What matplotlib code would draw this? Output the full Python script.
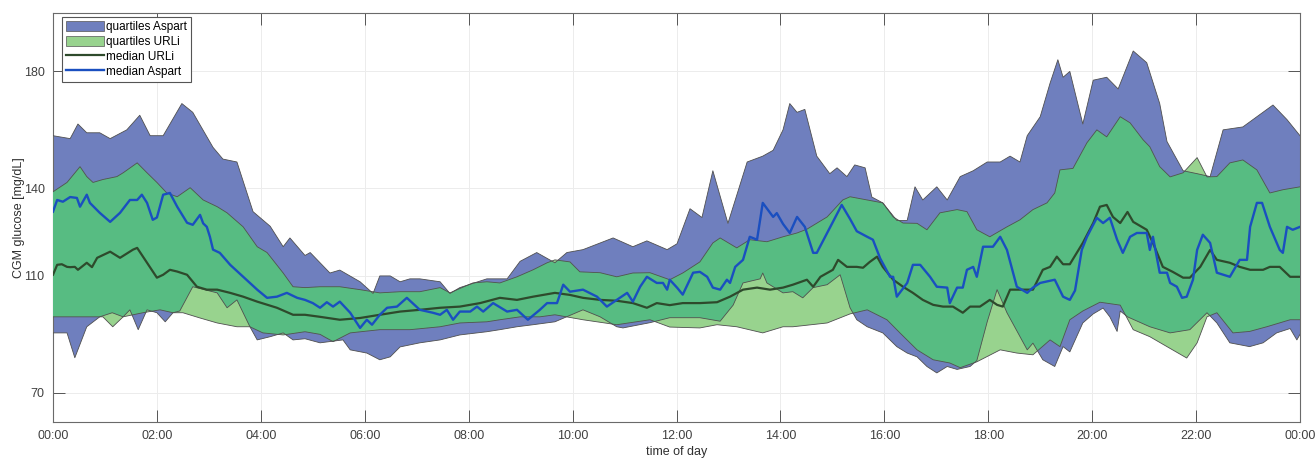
import numpy as np
import matplotlib
matplotlib.use('Agg')
import matplotlib.pyplot as plt
from matplotlib.patches import Patch
from matplotlib.lines import Line2D

plt.rcParams['font.family'] = ['Liberation Sans', 'DejaVu Sans']

# ---- data (time in hours, glucose in mg/dL) ----
asp_hi_t = [0.00, 0.33, 0.48, 0.65, 0.90, 1.10, 1.42, 1.67, 1.87, 2.12, 2.48, 2.69, 3.08, 3.27, 3.54,
            3.85, 4.18, 4.43, 4.56, 4.85, 4.95, 5.33, 5.52, 5.91, 6.16, 6.29, 6.49, 6.68, 6.87, 7.06,
            7.45, 7.64, 7.83, 8.35, 8.74, 8.99, 9.31, 9.66, 9.89, 10.20, 10.78, 11.16, 11.43, 11.82,
            12.01, 12.26, 12.49, 12.70, 12.99, 13.36, 13.66, 13.86, 14.05, 14.18, 14.32, 14.47, 14.70,
            14.95, 15.09, 15.28, 15.43, 15.63, 15.76, 15.97, 16.24, 16.44, 16.59, 16.74, 17.01, 17.21,
            17.46, 17.71, 17.98, 18.23, 18.42, 18.61, 18.75, 19.00, 19.19, 19.34, 19.44, 19.57, 19.82,
            20.02, 20.28, 20.50, 20.79, 21.05, 21.30, 21.44, 21.75, 22.02, 22.27, 22.52, 22.90, 23.48,
            23.75, 24.00]
asp_hi = [158, 157, 162, 159, 159, 157, 160, 165, 158, 158, 169, 166, 154, 150, 149,
          132, 127, 120, 123, 117, 118, 111, 112, 108, 104, 110, 110, 108, 109, 109,
          108, 104, 106, 109, 109, 115, 118, 114.5, 118, 119, 123, 120, 122, 119,
          121, 133, 130, 146, 128, 149, 151, 153, 160, 169, 166, 167, 151,
          145, 147, 144, 148, 147, 137, 135, 129, 129, 140.5, 136, 140.5, 136,
          144, 146, 149, 149, 151, 149, 158, 164.5, 176, 184, 178, 180, 162,
          177, 178, 174, 187, 183, 169, 156, 146, 145, 144, 160, 161, 168.5,
          163.5, 158]

asp_lo_t = [0.00, 0.27, 0.42, 0.65, 0.90, 1.14, 1.35, 1.48, 1.64, 1.81, 2.00, 2.16, 2.31, 2.44, 2.69,
            3.16, 3.35, 3.54, 3.79, 3.93, 4.18, 4.43, 4.62, 4.85, 5.14, 5.58, 5.72, 6.04, 6.29, 6.49,
            6.68, 7.06, 7.45, 7.83, 8.35, 8.60, 8.93, 9.24, 9.66, 10.20, 10.53, 10.85, 10.97, 11.49,
            11.87, 12.45, 12.84, 13.09, 13.28, 13.61, 13.66, 13.74, 14.05, 14.24, 14.43, 14.63, 14.90,
            15.15, 15.34, 15.47, 15.67, 15.97, 16.24, 16.44, 16.63, 16.82, 17.01, 17.21, 17.40, 17.65,
            17.78, 17.98, 18.17, 18.36, 18.75, 18.86, 19.05, 19.28, 19.44, 19.57, 19.82, 20.02, 20.21,
            20.34, 20.48, 20.54, 20.68, 21.11, 21.50, 21.88, 22.21, 22.40, 22.65, 23.03, 23.29, 23.55,
            23.81, 23.94, 24.00]
asp_lo = [90.5, 90.5, 82, 92.6, 96, 97.4, 96, 98.4, 91.6, 98.4, 97.4, 94.3, 97.4, 98, 106.3,
          104.2, 99.1, 101.8, 92.6, 88.1, 89.2, 90.5, 88.1, 88.5, 87.1, 88.1, 84.7, 83.6, 81.3, 82.3,
          85.7, 87.1, 88.1, 89.8, 90.9, 91.6, 92.6, 93.3, 94.3, 98.4, 96, 92.6, 92.2, 94,
          95.7, 95.7, 94.5, 100, 107.6, 109, 111, 107.6, 104.2, 104.6, 102.5, 106, 107,
          110.4, 99.1, 95, 92.6, 90.5, 85.8, 83.6, 82.3, 79, 76.8, 79, 78, 79,
          81, 94.3, 105.3, 97.4, 84.7, 87, 81.3, 79, 85.8, 84, 93.9, 97, 99,
          96, 91, 98, 96, 92.6, 90.5, 91.6, 97.4, 93.9, 87.1, 85.8, 87.1, 90.5,
          92, 88.1, 90]

url_hi_t = [0.00, 0.27, 0.52, 0.65, 0.77, 0.96, 1.23, 1.35, 1.62, 1.81, 2.00, 2.19, 2.39, 2.64, 2.89,
            3.16, 3.35, 3.66, 3.93, 4.12, 4.43, 4.62, 4.85, 5.14, 5.52, 5.91, 6.29, 6.68, 7.06, 7.45,
            7.64, 7.78, 8.08, 8.35, 8.60, 8.93, 9.24, 9.51, 9.66, 9.95, 10.14, 10.53, 10.85, 11.16,
            11.49, 11.87, 12.12, 12.45, 12.70, 12.84, 13.16, 13.41, 13.74, 14.05, 14.32, 14.51, 14.90,
            15.20, 15.34, 15.67, 15.97, 16.17, 16.36, 16.63, 16.82, 17.07, 17.40, 17.59, 17.78, 18.03,
            18.36, 18.61, 18.86, 19.13, 19.28, 19.38, 19.63, 19.90, 20.09, 20.28, 20.54, 20.73, 20.98,
            21.11, 21.30, 21.50, 21.75, 22.02, 22.21, 22.40, 22.65, 22.90, 23.17, 23.42, 23.67, 24.00]
url_hi = [138.8, 142, 147.4, 144, 142, 143, 144, 145.3, 148.7, 145.3, 142, 138.4, 137.1, 140.2, 136,
          133.7, 131.6, 126.8, 120, 118, 111, 106.3, 106, 106.3, 106.3, 105.3, 104.2, 104.6, 104.6, 106,
          104.2, 105.3, 107.6, 108, 107.6, 109.7, 112.1, 114.5, 115.5, 114.8, 111.4, 111.1, 109.7, 111,
          111.1, 108.7, 111, 114.8, 121.3, 123, 119.6, 122.4, 121.7, 123.4, 124.7, 126, 130.2,
          136, 137.1, 136, 135, 130.2, 128.1, 128, 125.8, 131.6, 132.7, 132, 125.8, 123.4,
          126.8, 129.2, 132.7, 135, 138.4, 146.3, 146.8, 155.6, 160, 157.6, 164.5, 162.4, 156.6,
          154.2, 147.4, 143.9, 145.3, 150.5, 143.9, 144, 148.7, 149.7, 146.3, 138.4, 139.5, 140.5]

url_lo_t = [0.00, 0.46, 0.96, 1.15, 1.35, 1.73, 2.06, 2.31, 2.50, 2.83, 3.16, 3.54, 3.79, 4.04, 4.43,
            4.85, 5.14, 5.39, 5.72, 6.29, 6.87, 7.45, 7.83, 8.35, 8.60, 8.99, 9.37, 9.66, 10.20, 10.85,
            11.49, 11.87, 12.45, 12.78, 13.16, 13.66, 14.05, 14.24, 14.90, 15.34, 15.67, 16.05, 16.30,
            16.63, 16.94, 17.26, 17.46, 17.78, 18.23, 18.55, 18.86, 19.19, 19.38, 19.57, 19.82, 20.15,
            20.54, 20.79, 21.11, 21.44, 21.82, 22.02, 22.21, 22.40, 22.71, 23.03, 23.36, 23.81, 24.00]
url_lo = [96, 96, 96, 92.6, 96, 97.4, 98.4, 97.4, 97.4, 95.6, 93.9, 92.6, 92.6, 90.5, 89.8,
          90.9, 90, 87.5, 90.5, 91.6, 91.6, 92.6, 93.9, 94.3, 95, 96, 96, 96.7, 95, 93.3,
          95, 92.5, 92.2, 93.3, 92.6, 90.5, 92.6, 92.6, 93.9, 97, 98.4, 95, 90.5,
          84.7, 81.3, 80.2, 78.6, 80.6, 84.7, 83.6, 83, 88.1, 85.8, 95, 98, 101,
          100, 91.6, 89.2, 85.8, 81.9, 87.1, 96, 97.4, 90.5, 91, 92.6, 95, 95]

med_asp_t = [0.00, 0.08, 0.19, 0.33, 0.46, 0.52, 0.65, 0.71, 0.90, 1.10, 1.29, 1.48, 1.62, 1.71, 1.81,
             1.92, 2.00, 2.12, 2.25, 2.39, 2.58, 2.69, 2.83, 2.89, 2.96, 3.02, 3.08, 3.21, 3.41, 3.66,
             3.93, 4.12, 4.31, 4.50, 4.70, 4.85, 5.00, 5.14, 5.27, 5.39, 5.52, 5.72, 5.91, 6.04, 6.14,
             6.29, 6.43, 6.62, 6.81, 7.06, 7.31, 7.45, 7.58, 7.70, 7.83, 8.03, 8.16, 8.28, 8.47, 8.74,
             8.93, 9.14, 9.37, 9.51, 9.70, 9.82, 9.95, 10.20, 10.47, 10.66, 10.85, 11.05, 11.16, 11.30,
             11.43, 11.62, 11.74, 11.82, 11.87, 12.01, 12.12, 12.32, 12.45, 12.59, 12.70, 12.84, 12.97,
             13.03, 13.13, 13.28, 13.41, 13.55, 13.66, 13.86, 13.93, 14.05, 14.18, 14.32, 14.47, 14.63,
             14.70, 14.90, 15.18, 15.34, 15.47, 15.67, 15.78, 15.92, 16.11, 16.17, 16.24, 16.44, 16.55,
             16.69, 16.88, 17.01, 17.21, 17.26, 17.40, 17.51, 17.59, 17.71, 17.78, 17.90, 18.09, 18.23,
             18.36, 18.55, 18.75, 18.86, 19.00, 19.28, 19.44, 19.57, 19.67, 19.80, 19.90, 20.09, 20.21,
             20.34, 20.48, 20.59, 20.73, 20.86, 21.05, 21.11, 21.17, 21.30, 21.44, 21.50, 21.63, 21.73,
             21.82, 21.94, 22.02, 22.13, 22.27, 22.40, 22.65, 22.84, 22.98, 23.04, 23.17, 23.27, 23.42,
             23.61, 23.67, 23.75, 23.86, 24.00]
med_asp = [132, 136, 135.4, 137, 136.7, 133.7, 137.8, 135, 131.6, 128.5, 131.6, 136, 136, 137.8, 135,
           129.2, 130, 137.8, 138.4, 133.7, 128.2, 127.5, 130.9, 128, 126.8, 123.4, 119, 117.9, 113.8, 109.7,
           105.3, 102.5, 102.9, 104.2, 102.5, 101.8, 100.7, 99.1, 101, 99.5, 101.2, 97.4, 92.2, 95, 93.3,
           96.7, 99.1, 99.5, 102.5, 98.4, 97.4, 96.7, 98.4, 95, 97.8, 97.8, 99.5, 97.8, 100.7, 97.8,
           98.4, 95, 98.4, 100.7, 100.7, 107, 104.6, 105.3, 102.9, 99.5, 101.8, 104.2, 101.2, 106.3,
           109.7, 107.6, 107.6, 105.3, 108.7, 106, 103.6, 111.1, 111.4, 109.7, 106, 105.3, 108.7,
           107.6, 113.1, 115.5, 123.4, 122.4, 135, 130.2, 131.5, 127.8, 124.7, 130.2, 126.8, 117.9,
           117.9, 124.7, 134.3, 129.5, 125.3, 123.4, 122.4, 116, 109.7, 109.7, 102.9, 107.6, 113.8,
           113.8, 109.7, 106.3, 106, 100.7, 106, 106, 112.1, 113.1, 109.7, 120, 120, 123.4,
           118.9, 106.3, 104.2, 106, 107.6, 108.7, 102.9, 101.8, 105, 118.9, 123.4, 129.9, 128.1,
           129.9, 122.4, 117.9, 123.4, 124.7, 124.7, 118.9, 123.4, 111.1, 111.1, 107.6, 106.3, 102.5,
           102.9, 108.7, 118.9, 124.1, 121.3, 111.1, 109.7, 115.5, 115.5, 126.8, 135, 135, 126.8,
           118.9, 117.9, 126.8, 125.8, 126.8]

med_url_t = [0.00, 0.08, 0.17, 0.27, 0.33, 0.42, 0.48, 0.65, 0.75, 0.85, 1.10, 1.29, 1.54, 1.62, 1.81,
             2.00, 2.12, 2.25, 2.39, 2.58, 2.77, 2.96, 3.16, 3.41, 3.66, 3.93, 4.31, 4.62, 4.85, 5.14,
             5.52, 5.91, 6.29, 6.68, 7.06, 7.45, 7.83, 8.22, 8.60, 8.93, 9.24, 9.66, 9.95, 10.20, 10.53,
             10.85, 11.16, 11.43, 11.62, 11.87, 12.12, 12.45, 12.78, 13.03, 13.28, 13.55, 13.80, 14.05,
             14.24, 14.51, 14.63, 14.77, 15.01, 15.11, 15.28, 15.47, 15.59, 15.72, 15.86, 15.97, 16.17,
             16.36, 16.55, 16.74, 16.94, 17.13, 17.32, 17.51, 17.65, 17.84, 18.03, 18.17, 18.28, 18.42,
             18.61, 18.86, 19.05, 19.19, 19.32, 19.44, 19.57, 19.82, 20.02, 20.15, 20.28, 20.40, 20.54,
             20.68, 20.79, 21.05, 21.17, 21.36, 21.55, 21.75, 21.88, 22.08, 22.27, 22.40, 22.65, 22.84,
             23.04, 23.29, 23.42, 23.61, 23.81, 24.00]
med_url = [110.4, 113.8, 114, 113.1, 113, 113.1, 112.1, 114.5, 113, 116.2, 118.3, 116.2, 119, 119.6, 114.5,
           109.4, 110.4, 112.1, 111.5, 110.4, 106.3, 105.3, 105.3, 104.2, 102.9, 101.2, 99.1, 96.7, 96.7, 96,
           95, 95.6, 96.7, 97.8, 98.4, 99.1, 99.5, 100.7, 102.5, 101.8, 102.9, 104.2, 103.5, 102.5, 101.8,
           101.5, 100.7, 99.1, 100.7, 100, 100.7, 100.7, 101, 102.9, 105.3, 106, 105.3, 106,
           107, 108.7, 106.3, 109.7, 112.1, 115.5, 113.1, 113.1, 112.8, 114.8, 116.6, 113.1, 108.7,
           106.3, 104.2, 101.8, 100.1, 99.5, 99.5, 97.4, 99.5, 99.5, 101.8, 100.1, 99.5, 105.3,
           105.3, 105.3, 112.1, 113.1, 116.6, 114, 114, 121.3, 128.1, 133.7, 134.3, 130.2, 128.1,
           131.9, 128.5, 125.8, 121.3, 113.1, 111.4, 109.4, 109.4, 113.1, 118.9, 115.5, 114.5, 113.1,
           112.1, 112.1, 113.1, 113.1, 109.7, 109.7]

xticks = list(range(0, 25, 2))
xtick_labels = ['%02d:00' % (h % 24) for h in xticks]
yticks = [70, 110, 140, 180]

c_asp_band = '#6f7fbe'
c_url_light = '#98d38e'
c_url_mid = '#57bc82'
c_edge = '#4f4f4f'
c_med_asp = '#1a4fc0'
c_med_url = '#2e4a2c'

fig = plt.figure(figsize=(13.16, 4.59), dpi=100)
ax = fig.add_axes([53 / 1316, 1 - 422 / 459, (1300 - 53) / 1316, (422 - 13) / 459])

# bands as closed polygons: upper edge forward, lower edge back
asp_x = np.concatenate([asp_hi_t, asp_lo_t[::-1]])
asp_y = np.concatenate([asp_hi, asp_lo[::-1]])
url_x = np.concatenate([url_hi_t, url_lo_t[::-1]])
url_y = np.concatenate([url_hi, url_lo[::-1]])

blue = ax.fill(asp_x, asp_y, color=c_asp_band, lw=0, zorder=1)[0]
ax.fill(url_x, url_y, color=c_url_light, lw=0, zorder=2)
overlap = ax.fill(url_x, url_y, color=c_url_mid, lw=0, zorder=3)[0]
overlap.set_clip_path(blue)

for tt, vv in [(asp_hi_t, asp_hi), (asp_lo_t, asp_lo), (url_hi_t, url_hi), (url_lo_t, url_lo)]:
    ax.plot(tt, vv, color=c_edge, lw=0.6, zorder=4)

ax.plot(med_url_t, med_url, color=c_med_url, lw=1.6, zorder=5)
ax.plot(med_asp_t, med_asp, color=c_med_asp, lw=1.7, zorder=6)

ax.set_xlim(0, 24)
ax.set_ylim(60, 200)
ax.set_xticks(xticks)
ax.set_xticklabels(xtick_labels)
ax.set_yticks(yticks)
ax.tick_params(direction='in', length=8.5, width=0.7, colors='#555555', labelcolor='#404040',
               labelsize=9, top=True, right=True, pad=6)
ax.grid(True, color='#ececec', lw=0.7)
ax.set_axisbelow(True)
for s in ax.spines.values():
    s.set_color('#6a6a6a')
    s.set_linewidth(0.8)

ax.set_xlabel('time of day', fontsize=9, color='#303030', labelpad=3)
ax.set_ylabel('CGM glucose [mg/dL]', fontsize=9, color='#303030', labelpad=-1)

handles = [Patch(facecolor=c_asp_band, edgecolor='#555555', lw=0.5),
           Patch(facecolor=c_url_light, edgecolor='#555555', lw=0.5),
           Line2D([], [], color=c_med_url, lw=1.6),
           Line2D([], [], color=c_med_asp, lw=1.7)]
labels = ['quartiles Aspart', 'quartiles URLi', 'median URLi', 'median Aspart']
leg = ax.legend(handles, labels, loc='upper left', bbox_to_anchor=(9 / 1247, 1 - 4 / 409),
                borderaxespad=0, fontsize=8.5, frameon=True, fancybox=False, framealpha=1,
                edgecolor='#555555', handlelength=3.2, handleheight=0.95, handletextpad=0.2,
                labelspacing=0.22, borderpad=0.35)
leg.get_frame().set_linewidth(0.8)
leg.set_zorder(10)

fig.savefig('out.png', dpi=100)
